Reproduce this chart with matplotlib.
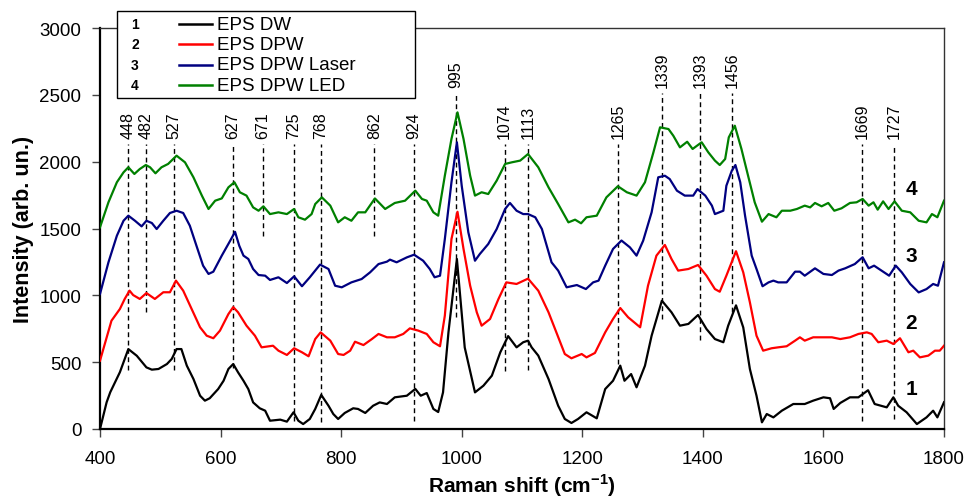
import matplotlib
matplotlib.use("Agg")
import matplotlib.pyplot as plt
from matplotlib.lines import Line2D
from matplotlib.patches import Rectangle

plt.rcParams['font.family'] = ['Liberation Sans', 'DejaVu Sans']
plt.rcParams['mathtext.fontset'] = 'custom'
plt.rcParams['mathtext.rm'] = 'Liberation Sans'
plt.rcParams['mathtext.bf'] = 'Liberation Sans:bold'

# series 1: EPS DW
x1 = [400, 411, 417, 433, 447, 461, 477, 486, 497, 511, 519, 527, 535, 544, 555, 566, 574, 582,
      596, 605, 613, 621, 629, 638, 646, 654, 665, 674, 682, 699, 710, 721, 729, 737, 748, 757,
      767, 779, 787, 795, 806, 820, 828, 840, 853, 864, 876, 889, 909, 923, 932, 942, 953, 961,
      969, 978, 992, 1005, 1022, 1036, 1050, 1064, 1077, 1091, 1102, 1110, 1116, 1127, 1144,
      1160, 1171, 1182, 1193, 1207, 1224, 1238, 1251, 1263, 1270, 1281, 1290, 1304, 1315, 1332,
      1348, 1362, 1376, 1392, 1406, 1420, 1434, 1442, 1455, 1467, 1478, 1489, 1498, 1506, 1517,
      1531, 1550, 1569, 1583, 1600, 1611, 1617, 1628, 1644, 1658, 1674, 1685, 1705, 1716, 1724,
      1738, 1755, 1771, 1782, 1789, 1800]
y1 = [0, 200, 275, 425, 598, 548, 461, 444, 449, 486, 524, 598, 598, 474, 374, 249, 212, 230,
      299, 361, 449, 486, 424, 361, 299, 199, 155, 137, 62, 70, 55, 125, 62, 37, 75, 150,
      255, 174, 112, 75, 120, 155, 150, 120, 174, 199, 187, 237, 249, 300, 249, 269, 150, 127,
      274, 723, 1272, 610, 274, 324, 399, 574, 695, 611, 649, 661, 611, 549, 374,
      174, 75, 45, 75, 125, 80, 299, 361, 474, 361, 411, 312, 474, 698, 960,
      873, 773, 786, 853, 748, 673, 649, 773, 925, 760, 449, 249, 50, 112, 87,
      137, 187, 187, 212, 237, 230, 150, 195, 237, 237, 290, 187, 162, 237, 174,
      125, 37, 87, 137, 87, 200]

# series 2: EPS DPW
x2 = [400, 419, 433, 441, 449, 455, 466, 477, 491, 505, 516, 526, 538, 552, 566, 577, 588, 599,
      613, 621, 629, 643, 657, 668, 687, 696, 710, 722, 735, 746, 757, 766, 782, 795, 804, 815,
      823, 837, 851, 862, 876, 889, 903, 914, 928, 942, 953, 964, 972, 983, 993, 1003, 1014,
      1025, 1033, 1047, 1061, 1074, 1091, 1110, 1127, 1144, 1157, 1171, 1182, 1199, 1207, 1221,
      1238, 1251, 1263, 1276, 1296, 1309, 1323, 1337, 1348, 1359, 1376, 1392, 1406, 1420, 1428,
      1439, 1455, 1467, 1478, 1489, 1500, 1514, 1525, 1539, 1553, 1561, 1569, 1583, 1600, 1614,
      1628, 1644, 1658, 1672, 1680, 1691, 1705, 1716, 1727, 1741, 1749, 1760, 1774, 1785, 1793,
      1800]
y2 = [511, 810, 898, 973, 1035, 1002, 973, 1017, 973, 1023, 1023, 1110, 1035, 898, 761, 698, 679, 736,
      860, 912, 873, 773, 698, 611, 623, 586, 554, 604, 574, 544, 673, 723, 661, 561, 554, 586,
      653, 628, 673, 711, 686, 686, 711, 753, 736, 711, 649, 619, 848, 1421, 1625, 1347, 1072,
      873, 773, 823, 973, 1097, 1085, 1125, 1035, 873, 723, 561, 529, 561, 536, 569,
      723, 823, 905, 836, 761, 1072, 1297, 1377, 1272, 1185, 1197, 1227, 1147, 1047, 1027,
      1147, 1330, 1172, 948, 698, 586, 604, 611, 619, 661, 686, 661, 686, 686, 686,
      673, 686, 711, 723, 711, 649, 661, 636, 679, 574, 586, 536, 549, 586, 586,
      623]

# series 3: EPS DPW Laser
x3 = [400, 414, 428, 439, 447, 458, 469, 477, 486, 494, 505, 516, 527, 538, 549, 560, 571, 580,
      588, 602, 616, 624, 631, 638, 646, 654, 663, 674, 682, 696, 710, 722, 735, 748, 765, 779,
      790, 801, 817, 834, 848, 862, 876, 881, 892, 909, 921, 936, 947, 955, 964, 972, 983, 992,
      1000, 1011, 1022, 1030, 1044, 1058, 1072, 1080, 1091, 1102, 1110, 1122, 1133, 1149, 1160,
      1174, 1191, 1206, 1218, 1227, 1238, 1251, 1265, 1279, 1290, 1301, 1315, 1326, 1337, 1345,
      1357, 1370, 1384, 1391, 1404, 1415, 1420, 1434, 1439, 1448, 1454, 1462, 1470, 1481, 1489,
      1499, 1509, 1517, 1525, 1539, 1553, 1561, 1569, 1586, 1600, 1614, 1625, 1636, 1652, 1665,
      1675, 1684, 1699, 1709, 1720, 1730, 1744, 1758, 1771, 1782, 1790, 1800]
y3 = [1010, 1247, 1446, 1558, 1596, 1558, 1516, 1558, 1541, 1496, 1558, 1616, 1633, 1616, 1521, 1371, 1222, 1160,
      1177, 1297, 1409, 1475, 1371, 1297, 1272, 1197, 1152, 1147, 1115, 1135, 1092, 1142, 1068, 1135, 1230, 1197,
      1072, 1060, 1097, 1122, 1172, 1234, 1252, 1267, 1247, 1284, 1304, 1259, 1197, 1135, 1147, 1421, 1846, 2145,
      1820, 1471, 1259, 1309, 1384, 1496, 1646, 1691, 1633, 1608, 1608, 1584, 1496, 1247, 1185,
      1060, 1077, 1047, 1097, 1110, 1222, 1347, 1410, 1359, 1297, 1409, 1621, 1883, 1895, 1870,
      1783, 1746, 1746, 1795, 1746, 1671, 1608, 1633, 1820, 1932, 1975, 1846, 1596, 1297, 1197,
      1068, 1097, 1110, 1097, 1097, 1177, 1177, 1147, 1202, 1160, 1152, 1185, 1202, 1234, 1285,
      1202, 1222, 1177, 1147, 1222, 1172, 1085, 1022, 1047, 1085, 1072, 1247]

# series 4: EPS DPW LED
x4 = [400, 414, 428, 439, 447, 457, 466, 476, 483, 492, 502, 513, 527, 541, 555, 569, 580, 591,
      602, 613, 623, 632, 643, 654, 663, 671, 682, 696, 710, 722, 729, 740, 751, 757, 768, 782,
      795, 806, 817, 828, 840, 856, 873, 889, 906, 923, 934, 942, 953, 961, 972, 983, 993, 1003,
      1014, 1022, 1033, 1044, 1058, 1072, 1083, 1097, 1110, 1127, 1144, 1160, 1177, 1188, 1198,
      1207, 1224, 1240, 1259, 1274, 1290, 1304, 1318, 1329, 1343, 1351, 1362, 1374, 1383, 1398,
      1409, 1420, 1428, 1437, 1443, 1453, 1464, 1475, 1486, 1498, 1509, 1522, 1531, 1545, 1556,
      1569, 1578, 1586, 1597, 1608, 1618, 1630, 1644, 1655, 1665, 1675, 1683, 1690, 1699, 1708,
      1718, 1730, 1744, 1758, 1771, 1780, 1789, 1800]
y4 = [1509, 1696, 1846, 1920, 1958, 1908, 1945, 1975, 1958, 1913, 1958, 1983, 2045, 1995, 1883, 1746, 1646, 1708,
      1725, 1808, 1846, 1771, 1746, 1658, 1633, 1666, 1608, 1621, 1608, 1646, 1584, 1566, 1608, 1683, 1733, 1671,
      1546, 1584, 1558, 1621, 1621, 1725, 1646, 1691, 1708, 1783, 1721, 1708, 1621, 1596, 1895, 2170, 2369, 2170,
      1895, 1746, 1771, 1758, 1858, 1983, 1995, 2008, 2057, 1958, 1808, 1683, 1546, 1566, 1539,
      1584, 1596, 1733, 1816, 1771, 1746, 1846, 2070, 2257, 2244, 2194, 2107, 2149, 2095, 2145,
      2070, 2008, 1975, 2020, 2182, 2269, 2095, 1895, 1696, 1551, 1608, 1584, 1633, 1633, 1646,
      1671, 1658, 1691, 1666, 1691, 1633, 1651, 1691, 1696, 1721, 1671, 1696, 1641, 1703, 1646,
      1703, 1633, 1621, 1558, 1546, 1608, 1584, 1708]

names = ["EPS DW", "EPS DPW", "EPS DPW Laser", "EPS DPW LED"]
colors = ["black", "#ff0000", "#000080", "#008000"]
curve_ids = ["1", "2", "3", "4"]
curve_label_y = [300, 795, 1300, 1800]

# peak markers: label, line position, line bottom, line top
peak_labels = ["448", "482", "527", "627", "671", "725", "768", "862", "924", "995",
               "1074", "1113", "1265", "1339", "1393", "1456", "1669", "1727"]
peak_x = [447, 476, 523, 621, 670, 722, 766, 855, 921, 990,
          1071, 1110, 1259, 1333, 1396, 1449, 1664, 1717]
peak_bottom = [444, 875, 444, 455, 1444, 62, 52, 1446, 62, 835,
               436, 444, 486, 823, 668, 873, 62, 75]
peak_top = [2132, 2132, 2132, 2132, 2132, 2132, 2132, 2132, 2132, 2510,
            2132, 2132, 2132, 2510, 2510, 2510, 2132, 2132]

fig = plt.figure(figsize=(9.64, 5.02), dpi=100)
ax = fig.add_axes([100 / 964, 1 - 430 / 502, 844 / 964, 401 / 502])

xs = [x1, x2, x3, x4]
ys = [y1, y2, y3, y4]
for i in range(4):
    ax.plot(xs[i], ys[i], color=colors[i], lw=1.6, zorder=3)
    ax.text(1746, curve_label_y[i], curve_ids[i], fontsize=15, fontweight='bold',
            ha='center', va='center')

for i in range(len(peak_labels)):
    ax.plot([peak_x[i], peak_x[i]], [peak_bottom[i], peak_top[i]], color='black',
            lw=1.0, linestyle=(0, (3.5, 2.5)), zorder=2)
    ax.text(peak_x[i], peak_top[i] + 45, peak_labels[i], rotation=90, fontsize=11.5,
            ha='center', va='bottom')

ax.set_xlim(400, 1800)
ax.set_ylim(0, 3000)
ax.set_xticks(range(400, 1801, 200))
ax.set_yticks(range(0, 3001, 500))
ax.tick_params(axis='both', direction='out', length=6, width=1.0, labelsize=13.5,
               color='#444444')
ax.tick_params(axis='x', pad=9)
ax.tick_params(axis='y', pad=7.5)
ax.tick_params(top=False, right=False)
for s in ['left', 'bottom']:
    ax.spines[s].set_linewidth(1.6)
for s in ['top', 'right']:
    ax.spines[s].set_linewidth(1.0)
    ax.spines[s].set_color('#333333')

ax.set_xlabel(r"Raman shift (cm$^{\mathbf{-1}}$)", fontsize=15, fontweight='bold', labelpad=3)
ax.set_ylabel("Intensity (arb. un.)", fontsize=15.5, fontweight='bold', labelpad=4)

# legend drawn by hand so the curve numbers sit inside the box
box = Rectangle((117 / 964, 1 - 99 / 502), 298 / 964, 87 / 502, transform=fig.transFigure,
                facecolor='white', edgecolor='black', lw=1.0, zorder=10)
fig.add_artist(box)
for i in range(4):
    yy = 1 - (25 + 20.4 * i) / 502
    fig.add_artist(Line2D([179 / 964, 212 / 964], [yy, yy], transform=fig.transFigure,
                          color=colors[i], lw=1.8, zorder=11))
    fig.text(135 / 964, yy, curve_ids[i], fontsize=10, fontweight='bold',
             ha='center', va='center', zorder=11)
    fig.text(217 / 964, yy, names[i], fontsize=13.5, ha='left', va='center', zorder=11)

fig.savefig("out.png", dpi=100)
